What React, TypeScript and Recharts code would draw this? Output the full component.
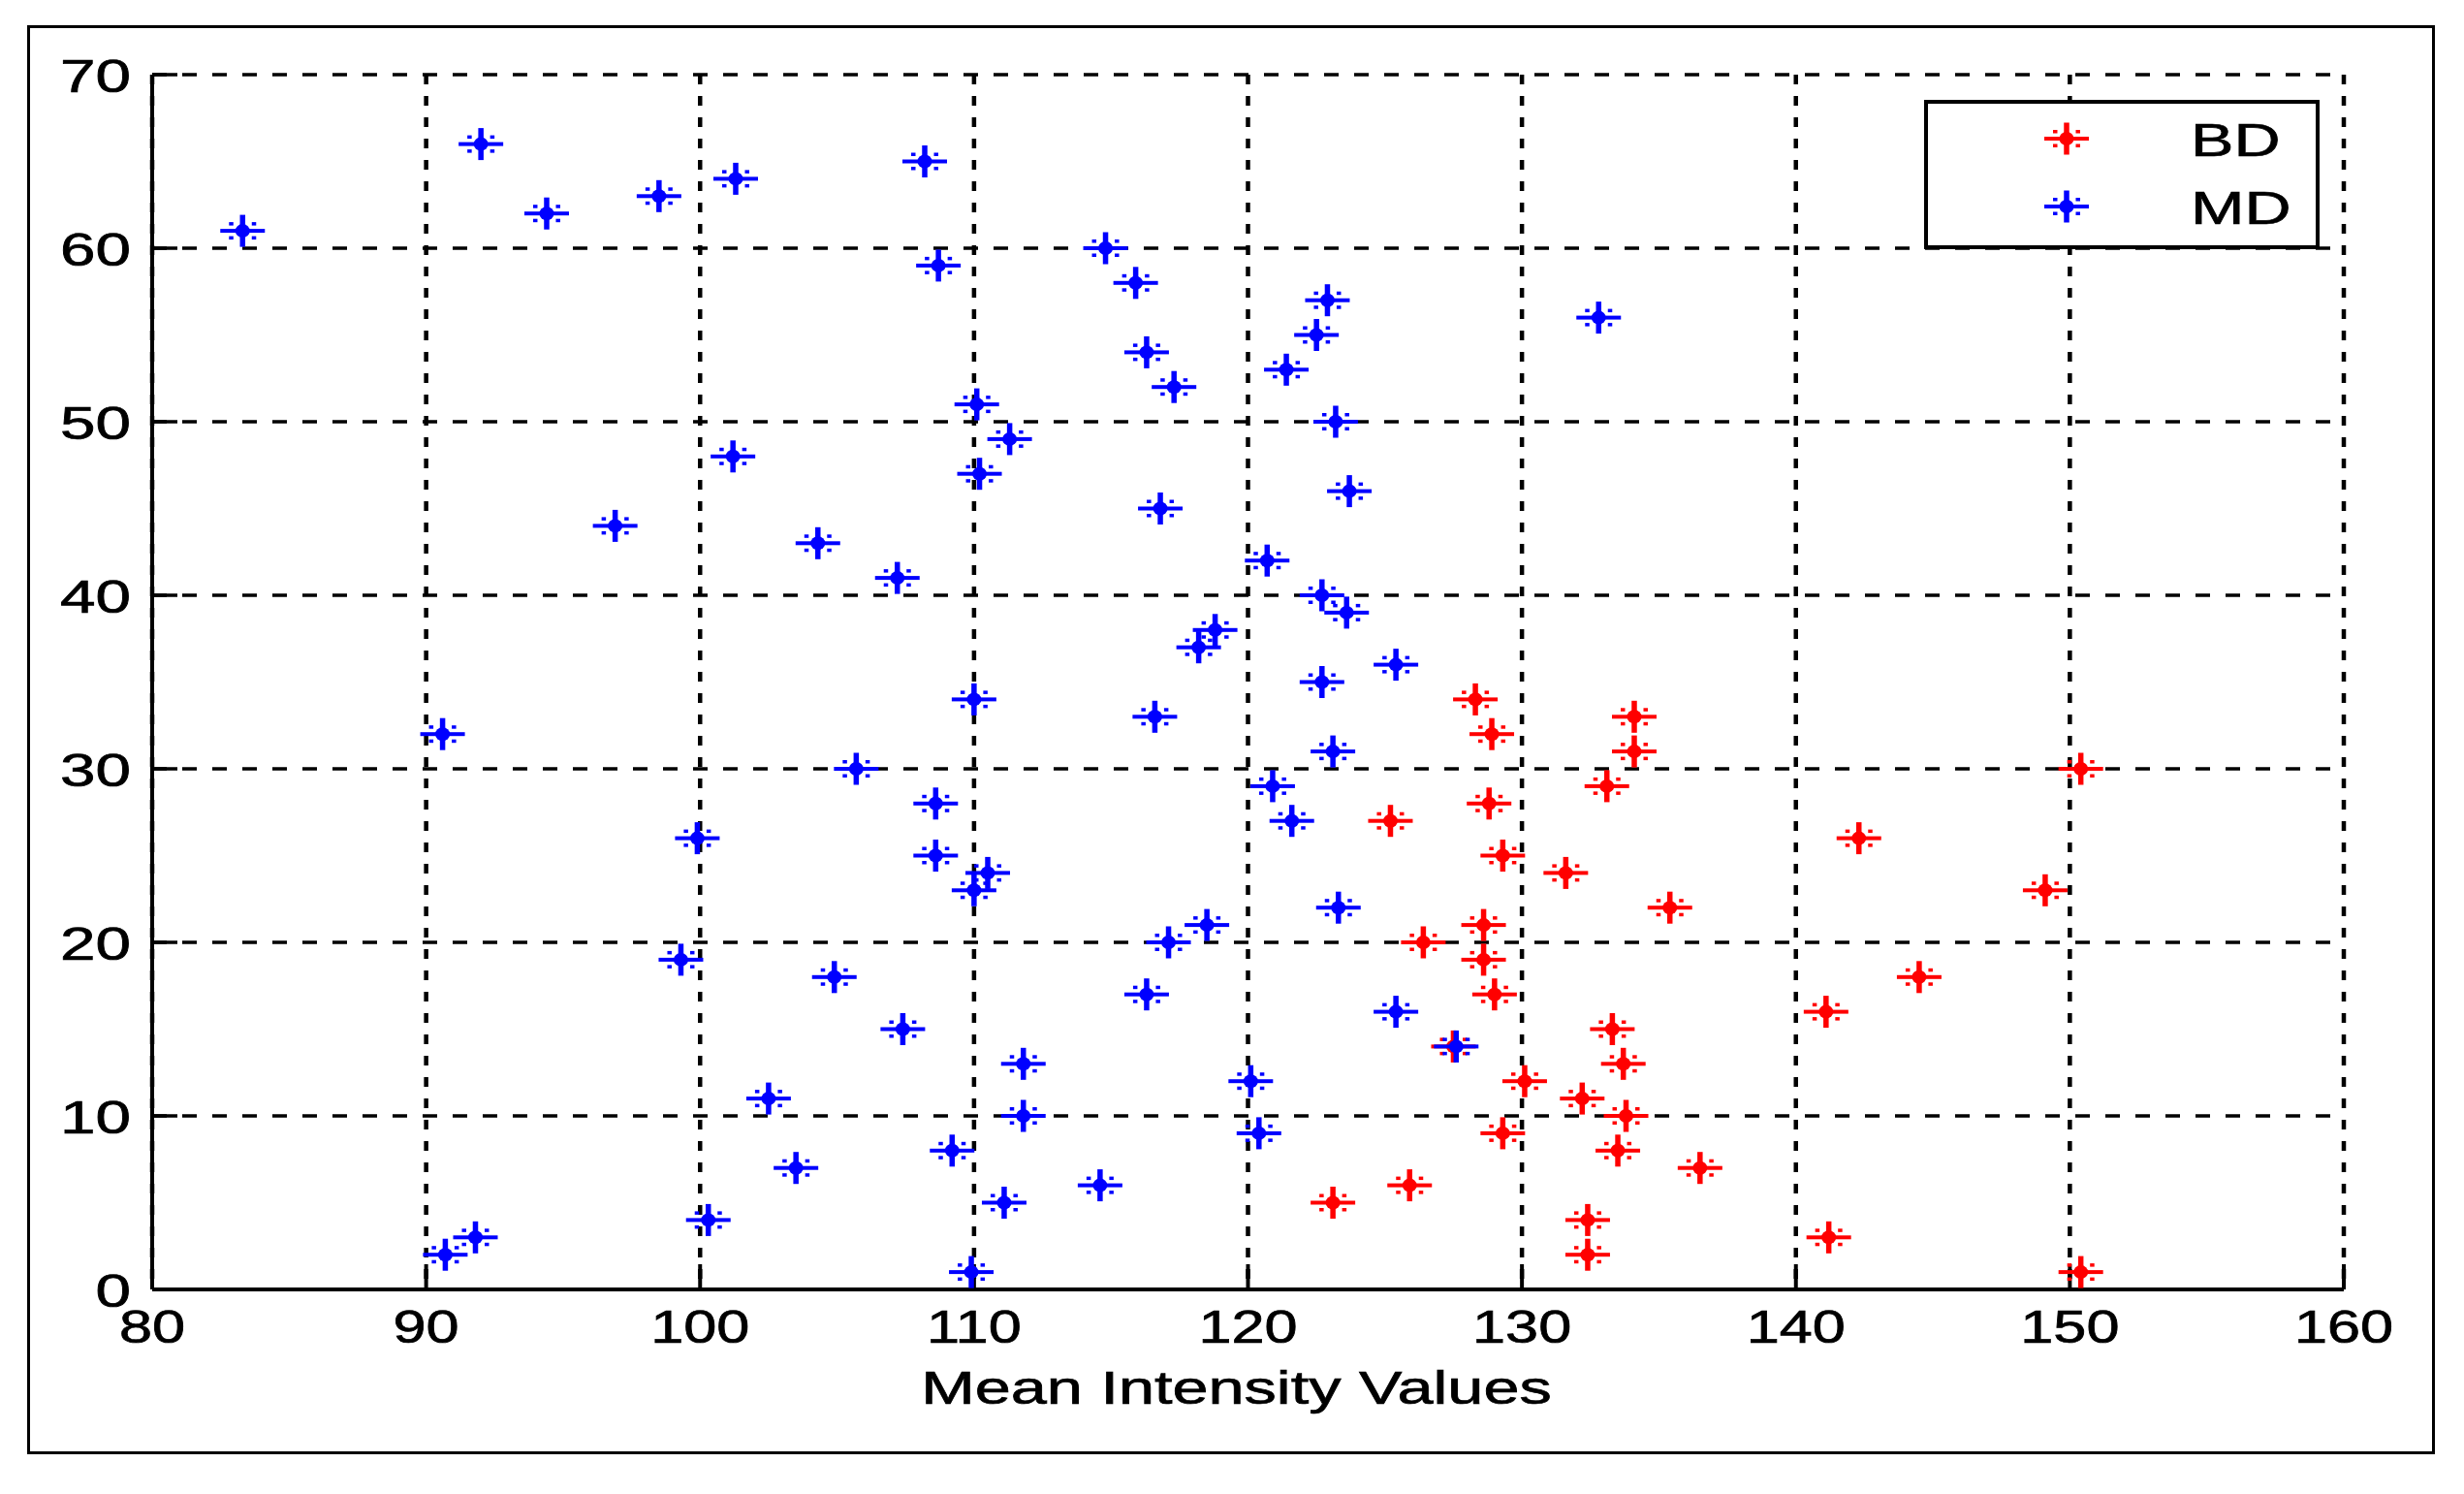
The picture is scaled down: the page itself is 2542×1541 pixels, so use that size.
import React from 'react';
import { ScatterChart, Scatter, XAxis, YAxis, CartesianGrid, Legend } from 'recharts';

const xTicks = [80, 90, 100, 110, 120, 130, 140, 150, 160];
const yTicks = [0, 10, 20, 30, 40, 50, 60, 70];
const xLabel = 'Mean Intensity Values';

const bdX = [150.4, 132.4, 141.2, 132.4, 123.1, 125.9, 136.5, 133.5, 129.3, 133.8,
  132.2, 130.1, 133.7, 127.5, 133.3, 141.1, 129.0, 144.5, 128.6, 126.4,
  128.6, 135.4, 149.1, 131.6, 129.3, 142.3, 125.2, 128.8, 133.1, 150.4,
  134.1, 128.9, 134.1, 128.3];
const bdY = [1, 2, 3, 4, 5, 6, 7, 8, 9, 10,
  11, 12, 13, 14, 15, 16, 17, 18, 19, 20,
  21, 22, 23, 24, 25, 26, 27, 28, 29, 30,
  31, 32, 33, 34];

const mdX = [109.9, 90.7, 91.8, 100.3, 111.1, 114.6, 103.5, 109.2, 120.4, 111.8,
  102.5, 120.1, 111.8, 127.6, 107.4, 125.4, 116.3, 104.9, 99.3, 117.1,
  118.5, 123.3, 110.0, 110.5, 108.6, 99.9, 121.6, 108.6, 120.9, 105.7,
  123.1, 90.6, 116.6, 110.0, 122.7, 125.4, 118.2, 118.8, 123.6, 122.7,
  107.2, 120.7, 104.3, 96.9, 116.8, 123.7, 110.2, 101.2, 111.3, 123.2,
  110.1, 117.3, 121.4, 116.3, 122.5, 132.8, 122.9, 115.9, 108.7, 114.8,
  83.3, 94.4, 98.5, 101.3, 108.2, 92.0];
const mdY = [1, 2, 3, 4, 5, 6, 7, 8, 9, 10,
  11, 12, 13, 14, 15, 16, 17, 18, 19, 20,
  21, 22, 23, 24, 25, 26, 27, 28, 29, 30,
  31, 32, 33, 34, 35, 36, 37, 38, 39, 40,
  41, 42, 43, 44, 45, 46, 47, 48, 49, 50,
  51, 52, 53, 54, 55, 56, 57, 58, 59, 60,
  61, 62, 63, 64, 65, 66];

const seriesNames = ['BD', 'MD'];
const seriesColors = ['#ff0000', '#0000ff'];

const bdData = bdX.map((x, i) => ({ x, y: bdY[i] }));
const mdData = mdX.map((x, i) => ({ x, y: mdY[i] }));

const FONT = '"Liberation Sans", Arial, Helvetica, sans-serif';
const TEXT_STROKE = 0.7;

const StarShape = (props: any) => {
  const { cx, cy, fill } = props;
  if (cx == null || cy == null) return null;
  return (
    <g>
      <rect x={cx - 23} y={cy - 2} width={46} height={4} fill={fill} />
      <rect x={cx - 2.75} y={cy - 16.5} width={5.5} height={33} fill={fill} />
      <ellipse cx={cx} cy={cy} rx={7.5} ry={7} fill={fill} />
      <rect x={cx - 14} y={cy - 9} width={4.5} height={3.5} fill={fill} />
      <rect x={cx + 9.5} y={cy - 9} width={4.5} height={3.5} fill={fill} />
      <rect x={cx - 14} y={cy + 5.5} width={4.5} height={3.5} fill={fill} />
      <rect x={cx + 9.5} y={cy + 5.5} width={4.5} height={3.5} fill={fill} />
    </g>
  );
};

const XTick = (props: any) => {
  const { x, y, payload } = props;
  return (
    <text
      transform={`translate(${x},${y + 35}) scale(1.25,1)`}
      textAnchor="middle"
      fontFamily={FONT}
      fontSize={49}
      fill="#000"
      stroke="#000"
      strokeWidth={TEXT_STROKE}
    >
      {payload.value}
    </text>
  );
};

const YTick = (props: any) => {
  const { x, y, payload } = props;
  return (
    <text
      transform={`translate(${x},${y + 17.5}) scale(1.34,1)`}
      textAnchor="end"
      fontFamily={FONT}
      fontSize={49}
      fill="#000"
      stroke="#000"
      strokeWidth={TEXT_STROKE}
    >
      {payload.value}
    </text>
  );
};

const XLabel = (props: any) => {
  const vb = props.viewBox || { x: 157, y: 1330, width: 2261 };
  const cx = vb.x + vb.width / 2 - 12;
  return (
    <text
      transform={`translate(${cx},${vb.y + 118}) scale(1.36,1)`}
      textAnchor="middle"
      fontFamily={FONT}
      fontSize={49}
      fill="#000"
      stroke="#000"
      strokeWidth={TEXT_STROKE}
    >
      {xLabel}
    </text>
  );
};

const LegendBox = () => (
  <svg width={408} height={154} style={{ display: 'block' }}>
    <rect x={2} y={2} width={404} height={150} fill="#fff" stroke="#000" strokeWidth={4} />
    {seriesNames.map((name, i) => (
      <g key={name}>
        <StarShape cx={147} cy={40 + i * 70} fill={seriesColors[i]} />
        <text
          transform={`translate(275,${40 + i * 70 + 17.5}) scale(1.36,1)`}
          fontFamily={FONT}
          fontSize={49}
          fill="#000"
          stroke="#000"
          strokeWidth={TEXT_STROKE}
        >
          {name}
        </text>
      </g>
    ))}
  </svg>
);

export default function App() {
  return (
    <div style={{ position: 'absolute', left: 0, top: 0, width: 2542, height: 1541, background: '#fff' }}>
      <div
        style={{
          position: 'absolute',
          left: 28,
          top: 26,
          width: 2478,
          height: 1468,
          border: '3px solid #000',
        }}
      />
      <div style={{ position: 'absolute', left: 0, top: 0 }}>
        <ScatterChart width={2542} height={1541} margin={{ top: 77, right: 124, bottom: 61, left: 57 }}>
          <CartesianGrid
            horizontal={true}
            vertical={false}
            stroke="#000"
            strokeWidth={3.5}
            strokeDasharray="15 16"
          />
          <CartesianGrid
            horizontal={false}
            vertical={true}
            stroke="#000"
            strokeWidth={4.5}
            strokeDasharray="10 12"
          />
          <XAxis
            dataKey="x"
            type="number"
            domain={[80, 160]}
            ticks={xTicks}
            interval={0}
            height={150}
            axisLine={{ stroke: '#000', strokeWidth: 4 }}
            tickLine={{ stroke: '#000', strokeWidth: 4 }}
            tickSize={-26}
            tickMargin={46}
            tick={<XTick />}
            allowDataOverflow
            label={<XLabel />}
          />
          <XAxis
            xAxisId="top"
            orientation="top"
            type="number"
            domain={[80, 160]}
            ticks={xTicks}
            interval={0}
            height={0}
            axisLine={{ stroke: '#000', strokeWidth: 4 }}
            tickLine={{ stroke: '#000', strokeWidth: 4 }}
            tickSize={-26}
            tick={false}
            allowDataOverflow
          />
          <YAxis
            dataKey="y"
            type="number"
            domain={[0, 70]}
            ticks={yTicks}
            interval={0}
            width={100}
            axisLine={{ stroke: '#000', strokeWidth: 4 }}
            tickLine={{ stroke: '#000', strokeWidth: 3.5 }}
            tickSize={-26}
            tickMargin={48}
            tick={<YTick />}
            allowDataOverflow
          />
          <YAxis
            yAxisId="right"
            orientation="right"
            type="number"
            domain={[0, 70]}
            ticks={yTicks}
            interval={0}
            width={0}
            axisLine={{ stroke: '#000', strokeWidth: 4 }}
            tickLine={{ stroke: '#000', strokeWidth: 3.5 }}
            tickSize={-26}
            tick={false}
            allowDataOverflow
          />
          <Scatter
            name={seriesNames[0]}
            data={bdData}
            fill={seriesColors[0]}
            shape={StarShape}
            isAnimationActive={false}
          />
          <Scatter
            name={seriesNames[1]}
            data={mdData}
            fill={seriesColors[1]}
            shape={StarShape}
            isAnimationActive={false}
          />
          <Legend
            layout="vertical"
            align="center"
            verticalAlign="middle"
            content={<LegendBox />}
            wrapperStyle={{ position: 'absolute', left: 1985, top: 103, width: 408, height: 154 }}
          />
        </ScatterChart>
      </div>
    </div>
  );
}
